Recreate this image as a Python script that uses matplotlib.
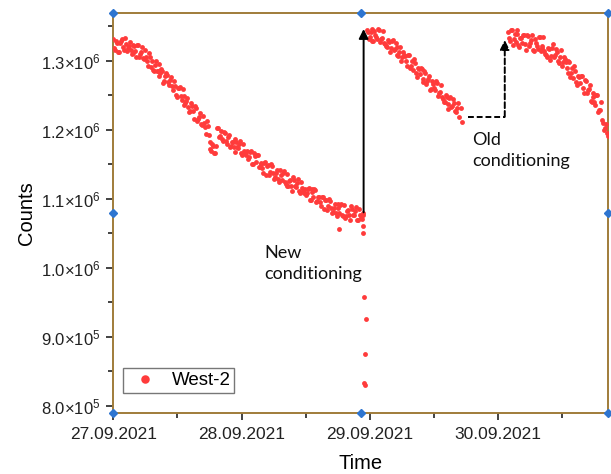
import numpy as np
import matplotlib
matplotlib.use("Agg")
import matplotlib.pyplot as plt
from matplotlib.ticker import FixedLocator

# time in days after 27.09.2021 00:00, counts in thousands
SAMPLE_STEP = 0.015
HALF_STEP = 0.0075

seg1_start = 0.0
seg1_counts = [
    1331, 1316, 1325, 1312, 1328, 1320, 1333, 1314, 1321, 1316,
    1311, 1322, 1305, 1323, 1310, 1320, 1302, 1306, 1292, 1305,
    1300, 1285, 1300, 1285, 1278, 1288, 1268, 1278, 1280, 1265,
    1276, 1258, 1264, 1248, 1260, 1249, 1259, 1236, 1242, 1233,
    1227, 1235, 1216, 1231, 1216, 1225, 1207, 1210, 1194, 1206,
    1182, 1170, 1176, 1167, 1203, 1190, 1199, 1184, 1195, 1180,
    1193, 1176, 1183, 1168, 1183, 1173, 1184, 1164, 1170, 1163,
    1158, 1168, 1150, 1167, 1153, 1164, 1146, 1151, 1138, 1153,
    1148, 1134, 1151, 1137, 1131, 1142, 1124, 1135, 1138, 1124,
    1136, 1119, 1127, 1112, 1127, 1117, 1129, 1108, 1116, 1109,
    1105, 1115, 1098, 1115, 1103, 1113, 1097, 1102, 1089, 1103,
    1098, 1084, 1100, 1087, 1081, 1093, 1075, 1087, 1091, 1077,
    1091, 1075, 1084, 1070, 1085, 1076, 1088, 1069, 1077, 1071,
    1080,
]
# readings in between (offset by half a sample)
seg1b_counts = [
    1319, 1329, 1313, 1326, 1331, 1315, 1324, 1318, 1327, 1310,
    1323, 1314, 1323, 1305, 1313, 1304, 1315, 1300, 1311, 1291,
    1287, 1294, 1285, 1296, 1282, 1285, 1271, 1283, 1269, 1272,
    1263, 1270, 1251, 1261, 1262, 1243, 1249, 1239, 1246, 1226,
    1239, 1227, 1234, 1213, 1219, 1209, 1220, 1204, 1213, 1192,
    1172, 1179, 1166, 1176, 1203, 1191, 1187, 1197, 1184, 1190,
    1175, 1183, 1175, 1187, 1175, 1179, 1166, 1180, 1166, 1169,
    1161, 1169, 1151, 1162, 1164, 1146, 1152, 1144, 1152, 1135,
    1149, 1139, 1148, 1129, 1137, 1129, 1142, 1128, 1140, 1122,
    1118, 1126, 1119, 1131, 1119, 1123, 1111, 1124, 1112, 1115,
    1108, 1116, 1099, 1110, 1114, 1095, 1103, 1095, 1103, 1085,
    1099, 1089, 1097, 1079, 1087, 1080, 1093, 1080, 1093, 1075,
    1073, 1082, 1076, 1089, 1077, 1082, 1070, 1085, 1073, 1077,
]

seg2_start = 1.975
seg2_counts = [
    1345, 1331, 1341, 1328, 1343, 1334, 1346, 1327, 1333, 1326,
    1321, 1330, 1312, 1328, 1315, 1325, 1308, 1313, 1299, 1313,
    1307, 1293, 1308, 1293, 1287, 1297, 1277, 1288, 1290, 1274,
    1285, 1267, 1273, 1258, 1271, 1260, 1270, 1249, 1255, 1247,
    1241, 1250, 1230, 1246, 1233, 1244, 1227, 1232, 1218, 1231,
]
seg2b_counts = [
    1342, 1335, 1346, 1329, 1338, 1331, 1344, 1332, 1343, 1324,
    1320, 1327, 1319, 1330, 1317, 1320, 1307, 1320, 1306, 1309,
    1300, 1308, 1289, 1299, 1302, 1283, 1289, 1281, 1288, 1269,
    1282, 1271, 1278, 1259, 1266, 1257, 1268, 1254, 1265, 1245,
    1240, 1247, 1237, 1248, 1235, 1239, 1226, 1239,
]

seg3_start = 3.075
seg3_counts = [
    1341, 1328, 1345, 1332, 1327, 1339, 1320, 1333, 1337, 1324,
    1337, 1322, 1330, 1316, 1331, 1322, 1334, 1314, 1321, 1314,
    1309, 1319, 1301, 1319, 1306, 1317, 1300, 1306, 1292, 1305,
    1298, 1283, 1298, 1282, 1275, 1285, 1265, 1276, 1278, 1261,
    1272, 1254, 1259, 1242, 1254, 1241, 1250, 1226, 1229, 1214,
    1200, 1208, 1191,
]
seg3b_counts = [
    1333, 1345, 1323, 1339, 1345, 1323, 1333, 1325, 1337, 1316,
    1336, 1325, 1337, 1314, 1326, 1317, 1335, 1318, 1334, 1310,
    1305, 1317, 1307, 1324, 1308, 1313, 1297, 1316, 1298, 1302,
    1290, 1300, 1276, 1289, 1292, 1269, 1278, 1268, 1278, 1253,
    1270, 1257, 1265, 1240, 1248, 1236, 1250, 1229, 1240, 1210,
    1203, 1196,
]

# points off the regular runs (drop before the new conditioning)
extra_times = [1.759, 1.946, 1.946, 1.953, 1.969, 1.961, 1.961, 1.955, 2.716]
extra_counts = [1056, 1061, 1051, 958, 926, 875, 830, 833, 1212]

day_ticks = [0, 1, 2, 3]
day_labels = ["27.09.2021", "28.09.2021", "29.09.2021", "30.09.2021"]
count_ticks = [8.0e5, 9.0e5, 1.0e6, 1.1e6, 1.2e6, 1.3e6]
count_labels = [r"$8.0{\times}10^{5}$", r"$9.0{\times}10^{5}$", r"$1.0{\times}10^{6}$",
                r"$1.1{\times}10^{6}$", r"$1.2{\times}10^{6}$", r"$1.3{\times}10^{6}$"]

plt.rcParams["font.family"] = ["Liberation Sans", "DejaVu Sans"]
plt.rcParams["mathtext.fontset"] = "custom"
plt.rcParams["mathtext.rm"] = "Liberation Sans"
plt.rcParams["mathtext.it"] = "Liberation Sans:italic"
plt.rcParams["mathtext.bf"] = "Liberation Sans:bold"

RED = "#FF3B3B"
FRAME = "#A07C3A"
HANDLE = "#2E75D0"


def run_times(start, values, offset=0.0):
    return start + offset + SAMPLE_STEP * np.arange(len(values))


fig = plt.figure(figsize=(6.11, 4.74), dpi=100)
ax = fig.add_axes([0.1854, 0.1293, 0.8102, 0.8439])

times = np.concatenate([
    run_times(seg1_start, seg1_counts),
    run_times(seg1_start, seg1b_counts, HALF_STEP),
    run_times(seg2_start, seg2_counts),
    run_times(seg2_start, seg2b_counts, HALF_STEP),
    run_times(seg3_start, seg3_counts),
    run_times(seg3_start, seg3b_counts, HALF_STEP),
    extra_times,
])
counts = np.concatenate([seg1_counts, seg1b_counts, seg2_counts, seg2b_counts,
                         seg3_counts, seg3b_counts, extra_counts]) * 1e3

ax.plot(times, counts, "o", color=RED, markersize=3.5, markeredgewidth=0,
        label="West-2", zorder=3)

ax.set_xlim(0, 3.858)
ax.set_ylim(7.903e5, 1.3696e6)

ax.xaxis.set_major_locator(FixedLocator(day_ticks))
ax.set_xticklabels(day_labels)
ax.xaxis.set_minor_locator(FixedLocator([0.5, 1.5, 2.5, 3.5]))
ax.yaxis.set_major_locator(FixedLocator(count_ticks))
ax.set_yticklabels(count_labels)
ax.yaxis.set_minor_locator(FixedLocator([8.5e5, 9.5e5, 1.05e6, 1.15e6, 1.25e6, 1.35e6]))

ax.tick_params(which="major", direction="out", length=5, width=1.2, labelsize=12.5,
               colors="#222222", pad=5)
ax.tick_params(which="minor", direction="out", length=3.5, width=1.2, colors="#222222")
ax.tick_params(axis="y", labelsize=12, pad=4)

for side in ax.spines.values():
    side.set_color(FRAME)
    side.set_linewidth(1.4)

ax.set_xlabel("Time", fontsize=14.5, labelpad=9)
ax.set_ylabel("Counts", fontsize=14.5, labelpad=4)

# new conditioning: solid arrow
ax.annotate("", xy=(1.951, 1.346e6), xytext=(1.951, 1.0805e6),
            arrowprops=dict(arrowstyle="-|>", color="black", lw=1.4,
                            mutation_scale=14, shrinkA=0, shrinkB=0))
ax.text(1.177, 1.0065e6, "New\nconditioning", family="Lato", fontsize=13,
        linespacing=1.4, va="center", ha="left", color="#111111")

# old conditioning: dashed elbow arrow
ax.plot([2.763, 3.051], [1.2188e6, 1.2188e6], "--", color="black", lw=1.4,
        dashes=(3, 1.5))
ax.annotate("", xy=(3.051, 1.330e6), xytext=(3.051, 1.2188e6),
            arrowprops=dict(arrowstyle="-|>", color="black", lw=1.4, ls=(0, (3, 1.5)),
                            mutation_scale=14, shrinkA=0, shrinkB=0))
ax.text(2.80, 1.1695e6, "Old\nconditioning", family="Lato", fontsize=13,
        linespacing=1.4, va="center", ha="left", color="#111111")

leg = ax.legend(loc="lower left", bbox_to_anchor=(0.0196, 0.049), borderaxespad=0,
                fontsize=13.5, markerscale=1.75, frameon=True, fancybox=False,
                handletextpad=0.43, borderpad=0.2, handlelength=1.96)
leg.get_frame().set_edgecolor("#555555")
leg.get_frame().set_linewidth(1.0)

# selection handles shown on the frame
for hx, hy in [(0, 0), (0.5, 0), (1, 0), (0, 0.5), (1, 0.5), (0, 1), (0.5, 1), (1, 1)]:
    ax.plot(hx, hy, "D", color=HANDLE, markersize=4, transform=ax.transAxes,
            clip_on=False, zorder=5)

fig.savefig("out.png", dpi=100)
